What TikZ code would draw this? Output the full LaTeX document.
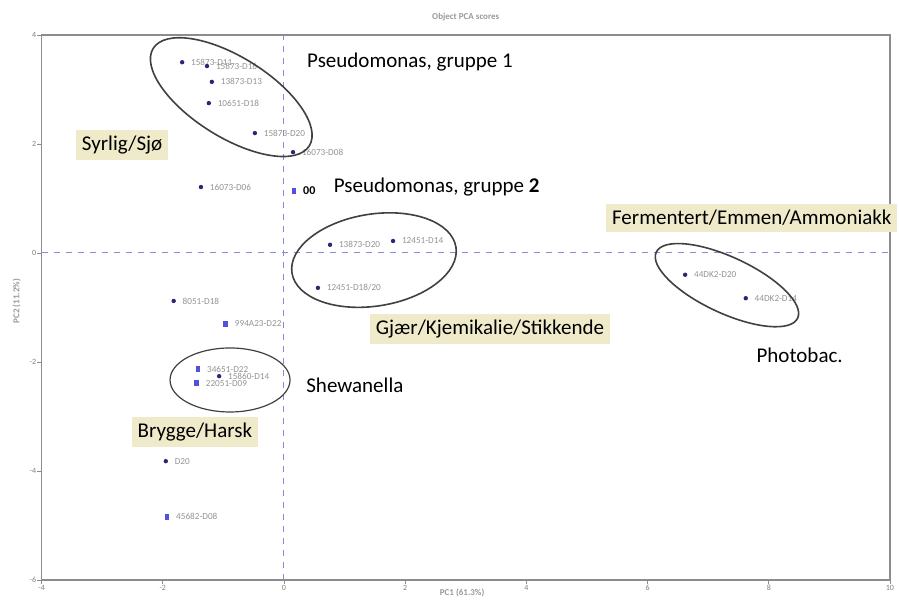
\documentclass[tikz,border=0pt]{standalone}
\usepackage{fontspec}
\setmainfont{Carlito}
\usepackage{tikz}
\usetikzlibrary{shapes}
\usetikzlibrary{positioning}

\definecolor{dotnavy}{RGB}{40,40,120}
\definecolor{dotblue}{RGB}{80,80,225}
\definecolor{zeroblue}{RGB}{130,140,215}
\definecolor{hilite}{RGB}{238,234,202}
\definecolor{axisgray}{RGB}{140,140,140}

\begin{document}
\begin{tikzpicture}[x=30.3pt, y=27.25pt,
    frame/.style={axisgray,line width=0.8pt},
    zeroline/.style={zeroblue,dashed,line width=0.5pt},
    ticklbl/.style={font=\fontsize{4}{5}\selectfont,text=gray,inner sep=1pt},
    axtitle/.style={font=\bfseries\fontsize{4.5}{5}\selectfont,text=gray!80},
    dotpt/.style={circle,fill=dotnavy,inner sep=0pt,minimum size=2.2pt},
    dotsq/.style={rectangle,fill=dotblue,inner sep=0pt,
      minimum width=2.4pt,minimum height=3.2pt},
    ptlbl/.style={font=\fontsize{4.6}{5}\selectfont,text=gray!85,
      anchor=west,inner sep=0pt,xshift=3pt},
    grouptag/.style={font=\fontsize{10.5}{12}\selectfont,inner sep=2.5pt},
    smelltag/.style={grouptag,fill=hilite,inner sep=3pt},
    cluster/.style={ellipse,draw=black!75,line width=0.8pt,inner sep=0pt}]

\def\XMIN{-4}
\def\XMAX{10}
\def\YMIN{-6}
\def\YMAX{4}

\useasboundingbox (-4.686,4.642) rectangle (10.149,-6.422);

% zero lines
\draw[zeroline] (0,\YMIN) -- (0,\YMAX);
\draw[zeroline] (\XMIN,0) -- (\XMAX,0);

% frame with ticks
\draw[frame] (\XMIN,\YMIN) rectangle (\XMAX,\YMAX);
\foreach \t [count=\i] in {-4,-2,...,10} {
    \draw[frame,line width=0.4pt] (\t,\YMIN) -- ++(0,-0.07);
    \node[ticklbl,below] (xt\i) at (\t,\YMIN-0.05) {\t};
}
\foreach \t [count=\i] in {-6,-4,...,4} {
    \draw[frame,line width=0.4pt] (\XMIN,\t) -- ++(-0.07,0);
    \node[ticklbl,left] (yt\i) at (\XMIN-0.05,\t) {\t};
}

\node[axtitle] (ttl) at (3,4.33) {Object PCA scores};
\node[axtitle] (xttl) at (2.94,-6.24) {PC1 (61.3\%)};
\node[axtitle,rotate=90] (yttl) at (-4.41,-0.88) {PC2 (11.2\%)};

% scores
\foreach \px/\py/\txt/\sty [count=\i] in {
    -1.68/3.50/15873-D11/dotpt,
    -1.27/3.43/15873-D16/dotpt,
    -1.19/3.14/13873-D13/dotpt,
    -1.24/2.75/10651-D18/dotpt,
    -0.48/2.20/15873-D20/dotpt,
     0.15/1.85/16073-D08/dotpt,
    -1.37/1.21/16073-D06/dotpt,
     0.76/0.15/13873-D20/dotpt,
     1.80/0.22/12451-D14/dotpt,
     0.56/-0.64/{12451-D18/20}/dotpt,
    -1.82/-0.88/8051-D18/dotpt,
    -0.96/-1.30/994A23-D22/dotsq,
    -1.42/-2.13/34651-D22/dotsq,
    -1.44/-2.39/22051-D09/dotsq,
    -1.07/-2.26/15860-D14/dotpt,
    -1.95/-3.82/D20/dotpt,
    -1.93/-4.84/45682-D08/dotsq,
     6.62/-0.40/44DK2-D20/dotpt,
     7.62/-0.83/44DK2-D14/dotpt} {
    \node[\sty] (p\i) at (\px,\py) {};
    \node[ptlbl] (l\i) at (p\i.east) {\txt};
}
\node[dotsq] (p20) at (0.165,1.14) {};
\node[ptlbl,font=\bfseries\fontsize{6}{6}\selectfont,text=black] (l20)
    at (p20.east) {00};

% clusters
\node[cluster,minimum width=92pt,minimum height=40pt,rotate=-32] (c1)
    at (-0.87,2.86) {};
\node[cluster,minimum width=83pt,minimum height=46pt,rotate=9] (c2)
    at (1.485,-0.13) {};
\node[cluster,minimum width=78pt,minimum height=28pt,rotate=-25] (c3)
    at (7.31,-0.59) {};
\node[cluster,minimum width=60pt,minimum height=32pt,line width=0.6pt] (c4)
    at (-0.89,-2.33) {};

% group labels
\node[grouptag] (pg1) at (2.08,3.50) {Pseudomonas, gruppe 1};
\node[grouptag] (pg2) at (2.52,1.21) {Pseudomonas, gruppe \textbf{2}};
\node[grouptag] (shw) at (1.17,-2.42) {Shewanella};
\node[grouptag] (pho) at (8.51,-1.87) {Photobac.};
\node[smelltag] (syr) at (-2.67,1.98) {Syrlig/Sjø};
\node[smelltag] (fer) at (7.72,0.64) {Fermentert/Emmen/Ammoniakk};
\node[smelltag] (gja) at (3.40,-1.39) {Gjær/Kjemikalie/Stikkende};
\node[smelltag] (bry) at (-1.47,-3.28) {Brygge/Harsk};

\end{tikzpicture}
\end{document}
